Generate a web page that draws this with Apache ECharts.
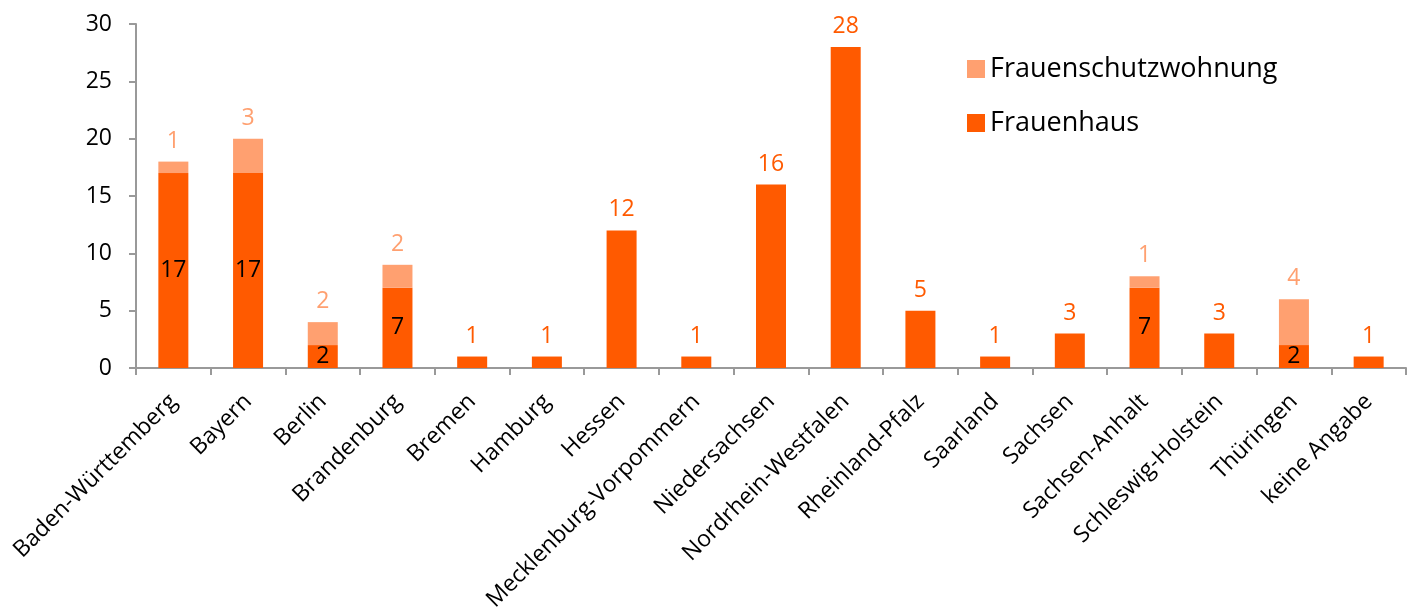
<!DOCTYPE html>
<html><head><meta charset="utf-8">
<script src="https://cdn.jsdelivr.net/npm/echarts@6/dist/echarts.min.js"></script>
<style>html,body{margin:0;padding:0;background:#fff}#c{width:1416px;height:608px}</style>
</head><body><div id="c"></div>
<script>
const categories = ["Baden-Württemberg","Bayern","Berlin","Brandenburg","Bremen","Hamburg","Hessen","Mecklenburg-Vorpommern","Niedersachsen","Nordrhein-Westfalen","Rheinland-Pfalz","Saarland","Sachsen","Sachsen-Anhalt","Schleswig-Holstein","Thüringen","keine Angabe"];
const frauenhaus = [17,17,2,7,1,1,12,1,16,28,5,1,3,7,3,2,1];
const schutzwohnung = [1,3,2,2,0,0,0,0,0,0,0,0,0,1,0,4,0];
const yTicks = [0,5,10,15,20,25,30];

const DARK = '#FF5A00', LIGHT = '#FFA070';
const FONT = '"Open Sans", "Noto Sans", sans-serif';

const hausData = frauenhaus.map((v,i) => ({
  value: v,
  label: schutzwohnung[i] > 0
    ? {show:true, position:'inside', color:'#000', fontSize:23, fontFamily:FONT}
    : {show:true, position:'top', color:DARK, fontSize:23, fontFamily:FONT, distance:9}
}));
const swData = schutzwohnung.map(v => ({
  value: v > 0 ? v : null,
  label: {show: v > 0, position:'top', color:LIGHT, fontSize:23, fontFamily:FONT, distance:9}
}));

const chart = echarts.init(document.getElementById('c'));
chart.setOption({
  animation:false,
  textStyle:{fontFamily:FONT},
  grid:{left:136, right:10, top:24, bottom:240, containLabel:false, outerBoundsMode:'none'},
  legend:{
    orient:'vertical', left:962, top:48, itemWidth:18, itemHeight:18, itemGap:22,
    icon:'rect',
    data:['Frauenschutzwohnung','Frauenhaus'],
    textStyle:{fontSize:27, lineHeight:32, color:'#000', fontFamily:FONT}
  },
  xAxis:{
    type:'category', data:categories,
    axisLine:{lineStyle:{color:'#999', width:2}},
    axisTick:{show:true, length:7, alignWithLabel:false, lineStyle:{color:'#999', width:2}},
    axisLabel:{rotate:45, fontSize:23, color:'#000', margin:30, interval:0, fontFamily:FONT}
  },
  yAxis:{
    type:'value', min:yTicks[0], max:yTicks[yTicks.length-1], interval:5,
    axisLine:{show:true, lineStyle:{color:'#999', width:2}},
    axisTick:{show:true, length:7, lineStyle:{color:'#999', width:2}},
    splitLine:{show:false},
    axisLabel:{fontSize:23, color:'#000', margin:24, fontFamily:FONT}
  },
  series:[
    {name:'Frauenhaus', type:'bar', stack:'a', barWidth:30, itemStyle:{color:DARK}, data:hausData},
    {name:'Frauenschutzwohnung', type:'bar', stack:'a', barWidth:30, itemStyle:{color:LIGHT}, data:swData}
  ]
});
</script></body></html>
